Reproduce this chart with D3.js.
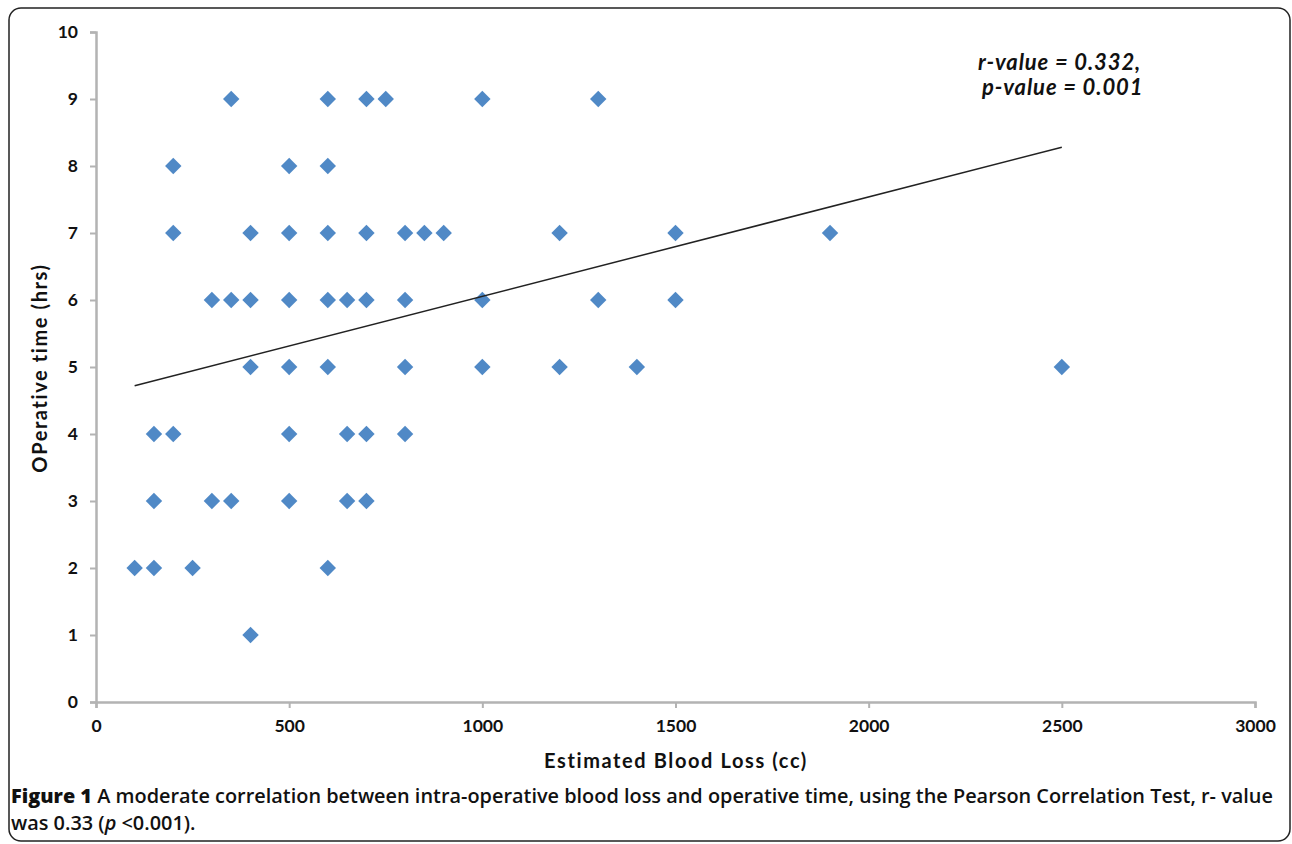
<!DOCTYPE html>
<html>
<head>
<meta charset="utf-8">
<script src="https://cdn.jsdelivr.net/npm/d3@7"></script>
<style>
  body { margin: 0; background: #fff; }
  .tick text { font-family: Lato, "DejaVu Sans", sans-serif; font-weight: 700; font-size: 17.5px; fill: #111; }
  .axis-label { font-family: Lato, sans-serif; font-weight: 700; font-size: 20px; letter-spacing: 1.6px; fill: #111; }
  .caption { font-family: "Open Sans", sans-serif; font-size: 19.9px; fill: #111; font-weight: 600; }
  .annot { font-family: Lato, sans-serif; font-style: italic; font-weight: 700; font-size: 22px; letter-spacing: 0.9px; fill: #111; }
</style>
</head>
<body>
<svg id="chart" width="1292" height="844"></svg>
<script>
// Estimated blood loss (cc) and operative time (hrs), row by row
const bloodLoss = [
  350, 600, 700, 750, 1000, 1300,
  200, 500, 600,
  200, 400, 500, 600, 700, 800, 850, 900, 1200, 1500, 1900,
  300, 350, 400, 500, 600, 650, 700, 800, 1000, 1300, 1500,
  400, 500, 600, 800, 1000, 1200, 1400, 2500,
  150, 200, 500, 650, 700, 800,
  150, 300, 350, 500, 650, 700,
  100, 150, 250, 600,
  400
];
const opTime = [
  9, 9, 9, 9, 9, 9,
  8, 8, 8,
  7, 7, 7, 7, 7, 7, 7, 7, 7, 7, 7,
  6, 6, 6, 6, 6, 6, 6, 6, 6, 6, 6,
  5, 5, 5, 5, 5, 5, 5, 5,
  4, 4, 4, 4, 4, 4,
  3, 3, 3, 3, 3, 3,
  2, 2, 2, 2,
  1
];

// Linear trend line end points
const trendX = [100, 2500];
const trendY = [4.72, 8.28];

const xTicks = [0, 500, 1000, 1500, 2000, 2500, 3000];
const yTicks = [0, 1, 2, 3, 4, 5, 6, 7, 8, 9, 10];

const svg = d3.select("#chart");

// Figure frame
svg.append("rect")
  .attr("x", 9).attr("y", 8)
  .attr("width", 1281).attr("height", 833)
  .attr("rx", 12)
  .attr("fill", "none")
  .attr("stroke", "#222")
  .attr("stroke-width", 1.5);

const x = d3.scaleLinear().domain([0, 3000]).range([96, 1255]);
const y = d3.scaleLinear().domain([0, 10]).range([702, 32]);

// Axes
const gx = svg.append("g")
  .attr("transform", `translate(0,${y(0)})`)
  .call(d3.axisBottom(x).tickValues(xTicks).tickSize(6).tickPadding(12).tickFormat(d3.format("d")));
const gy = svg.append("g")
  .attr("transform", `translate(${x(0)},0)`)
  .call(d3.axisLeft(y).tickValues(yTicks).tickSize(6).tickPadding(12));

[gx, gy].forEach(g => {
  g.select(".domain").attr("stroke", "#b3b3b3").attr("stroke-width", 2.5);
  g.selectAll(".tick line").attr("stroke", "#b3b3b3").attr("stroke-width", 2);
});

// Axis titles
svg.append("text")
  .attr("class", "axis-label")
  .attr("text-anchor", "middle")
  .attr("x", 676).attr("y", 768)
  .text("Estimated Blood Loss (cc)");

svg.append("text")
  .attr("class", "axis-label")
  .attr("text-anchor", "middle")
  .attr("transform", "translate(47,368) rotate(-90)")
  .text("OPerative time (hrs)");

// Points (diamonds)
const diamond = d3.symbol().type(d3.symbolSquare).size(135);
svg.append("g")
  .selectAll("path")
  .data(bloodLoss.map((b, i) => ({ b, t: opTime[i] })))
  .join("path")
  .attr("d", diamond)
  .attr("transform", d => `translate(${x(d.b)},${y(d.t)}) rotate(45)`)
  .attr("fill", "#5089c6");

// Trend line
svg.append("line")
  .attr("x1", x(trendX[0])).attr("y1", y(trendY[0]))
  .attr("x2", x(trendX[1])).attr("y2", y(trendY[1]))
  .attr("stroke", "#222")
  .attr("stroke-width", 1.5);

// Annotation
svg.append("text").attr("class", "annot")
  .attr("x", 978).attr("y", 70)
  .text("r-value = 0.332,");
svg.append("text").attr("class", "annot")
  .attr("x", 982).attr("y", 95)
  .text("p-value = 0.001");

// Caption
const cap1 = svg.append("text").attr("class", "caption").attr("x", 11).attr("y", 803);
cap1.append("tspan").attr("font-weight", 800).text("Figure 1");
cap1.append("tspan").text(" A moderate correlation between intra-operative blood loss and operative time, using the Pearson Correlation Test, r- value");

const cap2 = svg.append("text").attr("class", "caption").attr("x", 11).attr("y", 830);
cap2.append("tspan").text("was 0.33 (");
cap2.append("tspan").attr("font-style", "italic").text("p");
cap2.append("tspan").text(" <0.001).");
</script>
</body>
</html>
